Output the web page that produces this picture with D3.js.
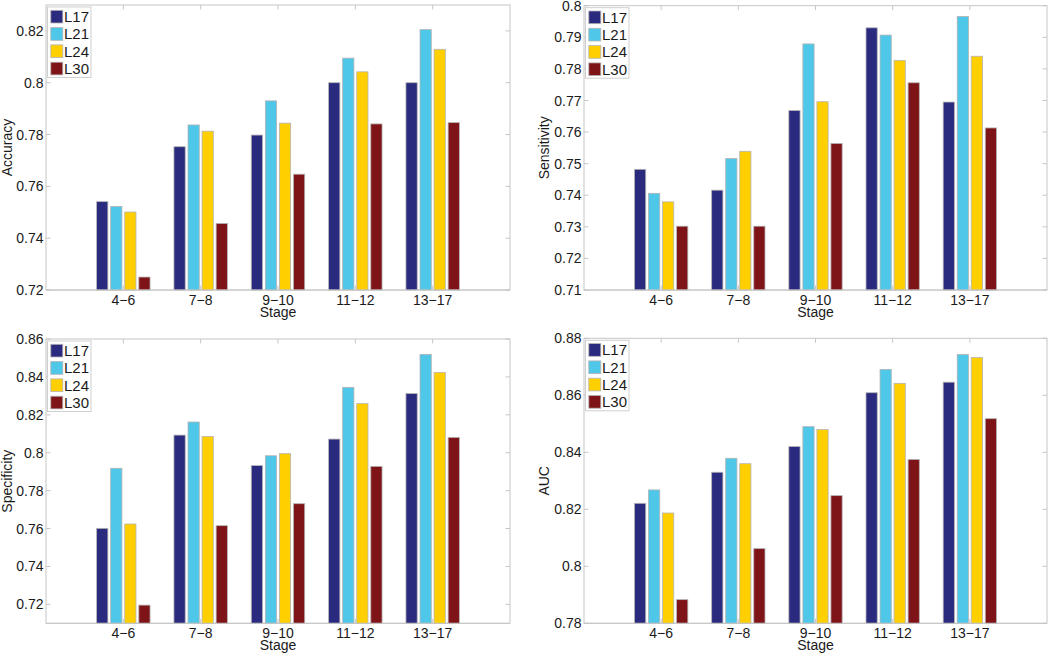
<!DOCTYPE html>
<html>
<head>
<meta charset="utf-8">
<script src="https://cdn.jsdelivr.net/npm/d3@7/dist/d3.min.js"></script>
<style>
  html, body { margin: 0; padding: 0; background: #fff; }
  svg { display: block; font-family: "Liberation Sans", Arial, Helvetica, sans-serif; }
</style>
</head>
<body>
<svg id="chart" width="1050" height="654"></svg>
<script>
// ---- Data ----
const categories = ["4\u22126", "7\u22128", "9\u221210", "11\u221212", "13\u221217"];
const seriesNames = ["L17", "L21", "L24", "L30"];
const seriesColors = ["#2a2a7e", "#4fc7e9", "#ffcf00", "#7f1418"];

const accuracyL17 = [0.7541, 0.7753, 0.7798, 0.8000, 0.8000];
const accuracyL21 = [0.7522, 0.7837, 0.7930, 0.8095, 0.8205];
const accuracyL24 = [0.7501, 0.7813, 0.7844, 0.8042, 0.8129];
const accuracyL30 = [0.7250, 0.7457, 0.7647, 0.7841, 0.7846];

const sensitivityL17 = [0.7482, 0.7416, 0.7668, 0.7930, 0.7695];
const sensitivityL21 = [0.7406, 0.7516, 0.7879, 0.7907, 0.7966];
const sensitivityL24 = [0.7379, 0.7539, 0.7696, 0.7827, 0.7840];
const sensitivityL30 = [0.7302, 0.7302, 0.7564, 0.7756, 0.7613];

const specificityL17 = [0.7601, 0.8093, 0.7932, 0.8072, 0.8312];
const specificityL21 = [0.7918, 0.8162, 0.7984, 0.8345, 0.8519];
const specificityL24 = [0.7624, 0.8086, 0.7995, 0.8259, 0.8424];
const specificityL30 = [0.7196, 0.7615, 0.7731, 0.7928, 0.8081];

const aucL17 = [0.8221, 0.8330, 0.8420, 0.8609, 0.8646];
const aucL21 = [0.8268, 0.8379, 0.8490, 0.8691, 0.8743];
const aucL24 = [0.8187, 0.8360, 0.8480, 0.8642, 0.8733];
const aucL30 = [0.7883, 0.8062, 0.8248, 0.8375, 0.8518];

const accuracyTicks = [0.72, 0.74, 0.76, 0.78, 0.80, 0.82];
const sensitivityTicks = [0.71, 0.72, 0.73, 0.74, 0.75, 0.76, 0.77, 0.78, 0.79, 0.80];
const specificityTicks = [0.72, 0.74, 0.76, 0.78, 0.80, 0.82, 0.84, 0.86];
const aucTicks = [0.78, 0.80, 0.82, 0.84, 0.86, 0.88];

const xLabel = "Stage";

// ---- Layout ----
const panels = [
  { label: "Accuracy", series: [accuracyL17, accuracyL21, accuracyL24, accuracyL30], domain: [0.72, 0.83], ticks: accuracyTicks,
    box: { l: 46, r: 510, t: 5, b: 290 }, ylabX: 12 },
  { label: "Sensitivity", series: [sensitivityL17, sensitivityL21, sensitivityL24, sensitivityL30], domain: [0.71, 0.80], ticks: sensitivityTicks,
    box: { l: 584, r: 1047, t: 5.7, b: 290 }, ylabX: 549 },
  { label: "Specificity", series: [specificityL17, specificityL21, specificityL24, specificityL30], domain: [0.71, 0.86], ticks: specificityTicks,
    box: { l: 46, r: 510, t: 339, b: 623.3 }, ylabX: 12 },
  { label: "AUC", series: [aucL17, aucL21, aucL24, aucL30], domain: [0.78, 0.88], ticks: aucTicks,
    box: { l: 584, r: 1047, t: 338.3, b: 623.3 }, ylabX: 549 }
];

const axisColor = "#c6c6c6";
const textColor = "#1a1a1a";
const svg = d3.select("#chart");
const fmt = v => String(+v.toFixed(3));

panels.forEach(p => {
  const B = p.box;
  const g = svg.append("g");
  const x = d3.scaleLinear().domain([0, categories.length + 1]).range([B.l, B.r]);
  const y = d3.scaleLinear().domain(p.domain).range([B.b, B.t]);

  const nS = seriesNames.length;
  const groupW = Math.min(0.8, nS / (nS + 1.5));
  const step = groupW / nS;
  const barW = step * 0.8;

  // box
  g.append("rect").attr("x", B.l).attr("y", B.t).attr("width", B.r - B.l).attr("height", B.b - B.t)
    .attr("fill", "#fff").attr("stroke", axisColor).attr("stroke-width", 1);

  // bars
  p.series.forEach((vals, si) => {
    g.selectAll(null).data(vals).enter().append("rect")
      .attr("x", (d, i) => x(i + 1 + (si - (nS - 1) / 2) * step - barW / 2))
      .attr("width", x(barW) - x(0))
      .attr("y", d => y(d))
      .attr("height", d => y(p.domain[0]) - y(d))
      .attr("fill", seriesColors[si])
      .attr("stroke", "#b4b4b4").attr("stroke-width", 0.8);
  });

  // bottom axis line redrawn
  g.append("line").attr("x1", B.l).attr("x2", B.r).attr("y1", B.b).attr("y2", B.b)
    .attr("stroke", axisColor).attr("stroke-width", 1);

  // x ticks
  const tl = 4.5;
  categories.forEach((c, i) => {
    const xx = x(i + 1);
    g.append("line").attr("x1", xx).attr("x2", xx).attr("y1", B.b).attr("y2", B.b - tl).attr("stroke", axisColor);
    g.append("line").attr("x1", xx).attr("x2", xx).attr("y1", B.t).attr("y2", B.t + tl).attr("stroke", axisColor);
    g.append("text").attr("x", xx).attr("y", B.b + 15).attr("text-anchor", "middle")
      .attr("font-size", 14).attr("fill", textColor).text(c);
  });

  // y ticks
  p.ticks.forEach(v => {
    const yy = y(v);
    g.append("line").attr("x1", B.l).attr("x2", B.l + tl).attr("y1", yy).attr("y2", yy).attr("stroke", axisColor);
    g.append("line").attr("x1", B.r).attr("x2", B.r - tl).attr("y1", yy).attr("y2", yy).attr("stroke", axisColor);
    g.append("text").attr("x", B.l - 2.5).attr("y", yy).attr("dy", "0.36em").attr("text-anchor", "end")
      .attr("font-size", 14).attr("fill", textColor).text(fmt(v));
  });

  // axis labels
  g.append("text").attr("x", (B.l + B.r) / 2).attr("y", B.b + 27).attr("text-anchor", "middle")
    .attr("font-size", 14).attr("fill", textColor).text(xLabel);
  g.append("text").attr("transform", `translate(${p.ylabX},${(B.t + B.b) / 2}) rotate(-90)`)
    .attr("text-anchor", "middle").attr("font-size", 14).attr("fill", textColor).text(p.label);

  // legend
  const lx = B.l + 1.5, ly = B.t + 2;
  const lg = g.append("g");
  lg.append("rect").attr("x", lx).attr("y", ly).attr("width", 43.5).attr("height", 70.5)
    .attr("fill", "#fff").attr("stroke", "#cfcfcf").attr("stroke-width", 1);
  seriesNames.forEach((s, i) => {
    const ry = ly + 3.3 + i * 17.3;
    lg.append("rect").attr("x", lx + 3.3).attr("y", ry).attr("width", 12).attr("height", 12.7)
      .attr("fill", seriesColors[i]).attr("stroke", "#b4b4b4").attr("stroke-width", 0.8);
    lg.append("text").attr("x", lx + 16.5).attr("y", ry + 11.8).attr("font-size", 15)
      .attr("fill", textColor).text(s);
  });
});
</script>
</body>
</html>
